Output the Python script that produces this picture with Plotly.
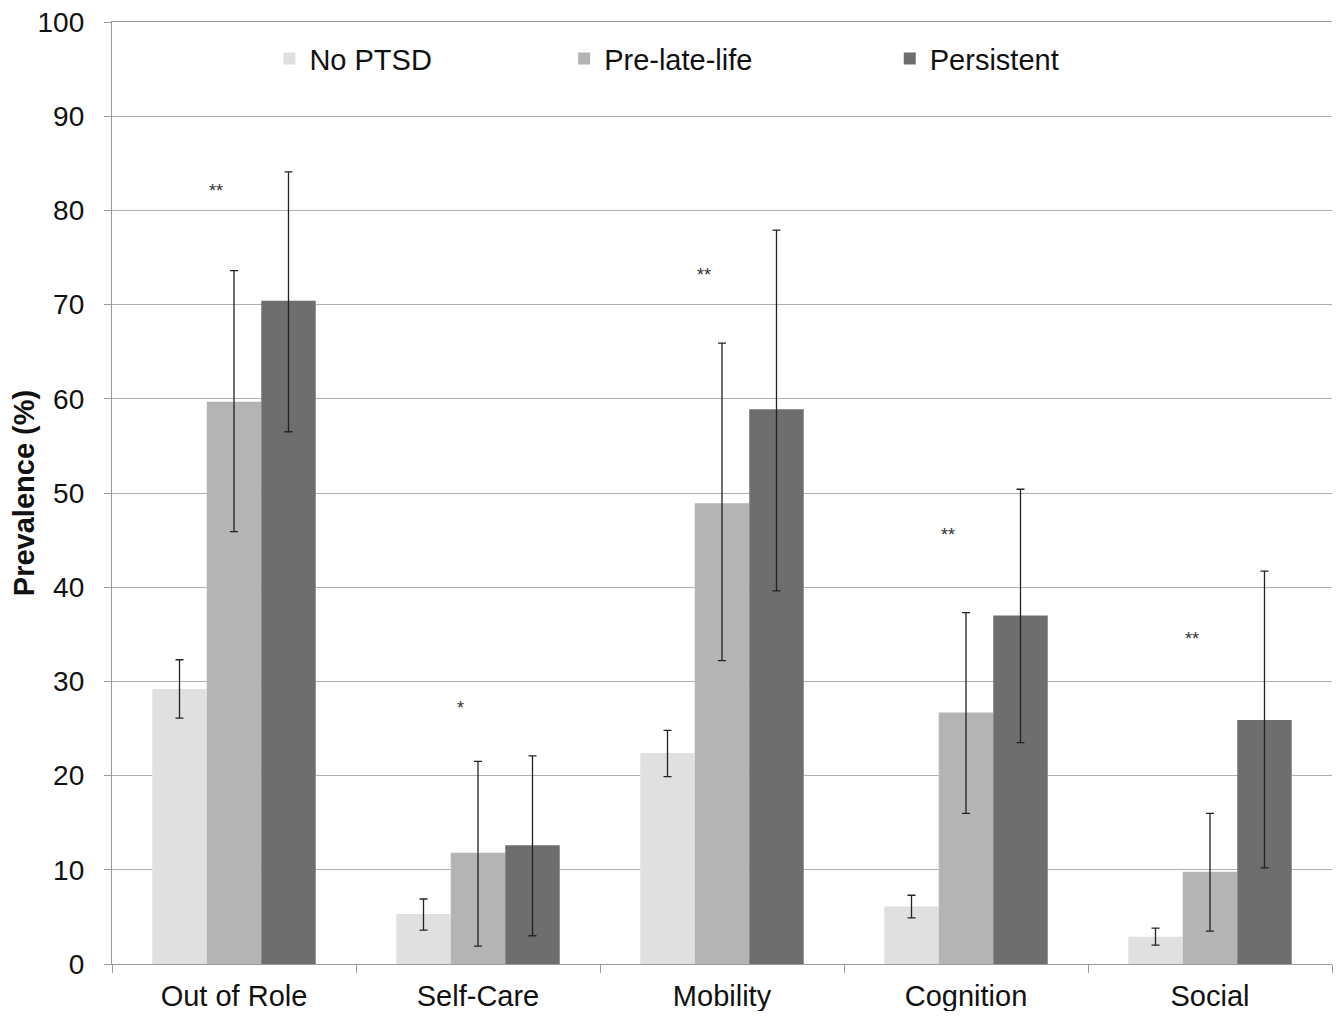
import plotly.graph_objects as go

categories = ["Out of Role", "Self-Care", "Mobility", "Cognition", "Social"]
series_names = ["No PTSD", "Pre-late-life", "Persistent"]

no_ptsd = [29.2, 5.3, 22.4, 6.1, 2.9]
no_ptsd_hi = [32.3, 6.9, 24.8, 7.3, 3.8]
no_ptsd_lo = [26.1, 3.6, 19.9, 4.9, 2.0]

pre_late = [59.7, 11.8, 48.9, 26.7, 9.8]
pre_late_hi = [73.6, 21.5, 65.9, 37.3, 16.0]
pre_late_lo = [45.9, 1.9, 32.2, 16.0, 3.5]

persistent = [70.4, 12.6, 58.9, 37.0, 25.9]
persistent_hi = [84.1, 22.1, 77.9, 50.4, 41.7]
persistent_lo = [56.5, 3.0, 39.6, 23.5, 10.2]

sig_labels = ["**", "*", "**", "**", "**"]
sig_y = [82.1, 27.2, 73.1, 45.5, 34.5]

y_ticks = list(range(0, 101, 10))

colors = ["#e0e0e0", "#b4b4b4", "#6e6e6e"]
FONT = "Liberation Sans, Arial, sans-serif"

fig = go.Figure()
data = [
    (no_ptsd, no_ptsd_hi, no_ptsd_lo),
    (pre_late, pre_late_hi, pre_late_lo),
    (persistent, persistent_hi, persistent_lo),
]
legend_ids = ["legend", "legend2", "legend3"]
for i, (name, (vals, hi, lo)) in enumerate(zip(series_names, data)):
    fig.add_trace(go.Bar(
        x=categories, y=vals, name=name,
        marker=dict(color=colors[i], line=dict(width=0)),
        error_y=dict(
            type="data", symmetric=False,
            array=[h - v for h, v in zip(hi, vals)],
            arrayminus=[v - l for v, l in zip(vals, lo)],
            color="#222222", thickness=1.3, width=4,
        ),
        legend=legend_ids[i],
    ))

for c, lab, yv in zip(categories, sig_labels, sig_y):
    fig.add_annotation(x=c, y=yv, text=lab, showarrow=False, xshift=-18,
                       font=dict(family=FONT, size=18, color="#333333"))

leg_common = dict(orientation="h", xanchor="left", yanchor="middle", y=0.961,
                  font=dict(family=FONT, size=29, color="#111111"),
                  bgcolor="rgba(0,0,0,0)", itemwidth=30)
fig.update_layout(
    legend=dict(x=0.129, **leg_common),
    legend2=dict(x=0.3706, **leg_common),
    legend3=dict(x=0.6375, **leg_common),
)

fig.update_layout(
    width=1326, height=1003,
    margin=dict(l=104, r=2, t=14, b=47),
    paper_bgcolor="white", plot_bgcolor="white",
    barmode="group", bargap=0.33, bargroupgap=0,
    showlegend=True,
    font=dict(family=FONT, color="#111111"),
    xaxis=dict(
        type="category", tickson="boundaries", ticks="outside", ticklen=8,
        tickcolor="#9a9a9a", tickwidth=1.3, automargin=False,
        showline=True, linecolor="#9a9a9a", linewidth=1.3, mirror=True,
        showgrid=False, tickfont=dict(family=FONT, size=29, color="#111111"),
        ticklabelstandoff=6,
    ),
    yaxis=dict(
        range=[0, 100], tickvals=y_ticks, ticks="outside", ticklen=7,
        tickcolor="#9a9a9a", tickwidth=1.3, automargin=False,
        showline=True, linecolor="#9a9a9a", linewidth=1.3,
        showgrid=True, gridcolor="#b0b0b0", gridwidth=1.3,
        zeroline=False, ticklabeloverflow="allow",
        tickfont=dict(family=FONT, size=28, color="#111111"),
        ticklabelstandoff=14,
        title=dict(text="<b>Prevalence (%)</b>", standoff=8,
                   font=dict(family=FONT, size=29, color="#111111")),
    ),
)

fig.write_html("out.html")
